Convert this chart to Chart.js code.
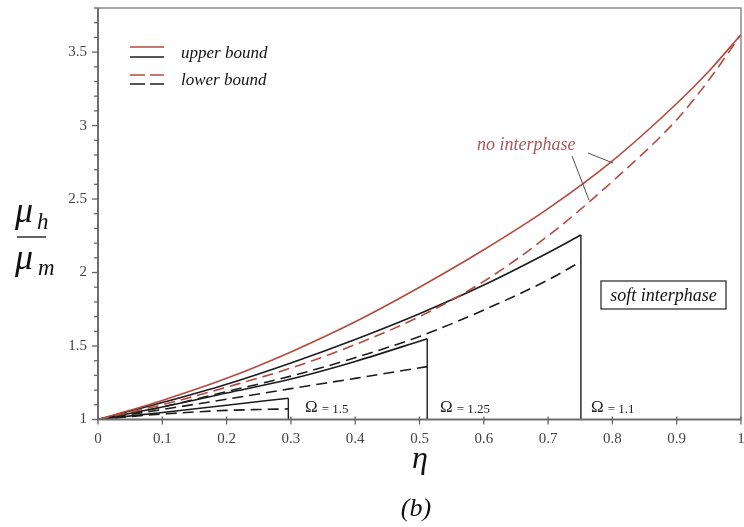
<!DOCTYPE html>
<html>
<head>
<meta charset="utf-8">
<script src="https://cdn.jsdelivr.net/npm/chart.js@4/dist/chart.umd.min.js"></script>
<style>
html,body{margin:0;padding:0;background:#fff;}
#wrap{width:744px;height:527px;position:relative;}
</style>
</head>
<body>
<div id="wrap"><canvas id="c" width="744" height="527"></canvas></div>
<script>
// ---- data ----
const etaNo = [0, 0.1, 0.2, 0.3, 0.4, 0.5, 0.6, 0.7, 0.8, 0.9, 0.95, 1];
const noInterUpper = [1, 1.13, 1.28, 1.46, 1.665, 1.90, 2.155, 2.435, 2.76, 3.15, 3.37, 3.62];
const noInterLower = [1, 1.10, 1.22, 1.35, 1.51, 1.70, 1.94, 2.25, 2.62, 3.04, 3.31, 3.62];

const eta11 = [0, 0.1, 0.2, 0.3, 0.4, 0.5, 0.6, 0.7, 0.751];
const upper11 = [1, 1.115, 1.24, 1.385, 1.545, 1.72, 1.915, 2.135, 2.255];
const lower11 = [1, 1.085, 1.19, 1.295, 1.42, 1.565, 1.745, 1.95, 2.075];

const eta125 = [0, 0.1, 0.2, 0.3, 0.4, 0.512];
const upper125 = [1, 1.085, 1.18, 1.275, 1.395, 1.55];
const lower125 = [1, 1.068, 1.138, 1.21, 1.28, 1.36];

const eta15u = [0, 0.1, 0.2, 0.296];
const upper15 = [1, 1.048, 1.097, 1.145];
const eta15l = [0, 0.05, 0.1, 0.15, 0.2, 0.25, 0.296];
const lower15 = [1, 1.02, 1.037, 1.051, 1.062, 1.068, 1.072];

const omegaValues = ['1.5', '1.25', '1.1'];
const etaMax = [0.296, 0.512, 0.751];
const upperEnd = [1.145, 1.55, 2.255];

const xTicks = [0, 0.1, 0.2, 0.3, 0.4, 0.5, 0.6, 0.7, 0.8, 0.9, 1];
const yMajor = [1, 1.5, 2, 2.5, 3, 3.5];

// ---- helpers ----
const RED = '#b44a3e';
const BLK = '#1c1c1c';
const pts = (xs, ys) => xs.map((x, i) => ({x: x, y: ys[i]}));
const lineDs = (xs, ys, color, dashed) => ({
  data: pts(xs, ys), borderColor: color, borderWidth: 1.6,
  borderDash: dashed ? [11, 6] : [], pointRadius: 0, showLine: true,
  tension: 0.4, cubicInterpolationMode: 'monotone', fill: false
});

const datasets = [
  lineDs(etaNo, noInterUpper, RED, false),
  lineDs(etaNo, noInterLower, RED, true),
  lineDs(eta11, upper11, BLK, false),
  lineDs(eta11, lower11, BLK, true),
  lineDs(eta125, upper125, BLK, false),
  lineDs(eta125, lower125, BLK, true),
  lineDs(eta15u, upper15, BLK, false),
  lineDs(eta15l, lower15, BLK, true)
];
etaMax.forEach((e, i) => {
  const d = lineDs([e, e], [upperEnd[i], 1], BLK, false);
  d.tension = 0; d.borderWidth = 1.4;
  datasets.push(d);
});

const SERIF = '"Liberation Serif", "DejaVu Serif", serif';

const decor = {
  id: 'decor',
  afterDraw(chart) {
    const ctx = chart.ctx;
    const xs = chart.scales.x, ys = chart.scales.y;
    const L = chart.chartArea.left, R = chart.chartArea.right;
    const T = chart.chartArea.top, B = chart.chartArea.bottom;
    ctx.save();
    // frame
    ctx.strokeStyle = '#8a8a8a'; ctx.lineWidth = 1.5;
    ctx.beginPath(); ctx.moveTo(L, T); ctx.lineTo(R, T); ctx.lineTo(R, B); ctx.stroke();
    ctx.strokeStyle = '#6e6e6e'; ctx.lineWidth = 2;
    ctx.beginPath(); ctx.moveTo(L, T); ctx.lineTo(L, B); ctx.lineTo(R, B); ctx.stroke();
    // y ticks
    ctx.lineWidth = 1.3; ctx.strokeStyle = '#666';
    ys.ticks.forEach(t => {
      const v = t.value;
      const major = Math.abs(v * 2 - Math.round(v * 2)) < 1e-6;
      const py = ys.getPixelForValue(v);
      ctx.beginPath(); ctx.moveTo(L - (major ? 6 : 4), py); ctx.lineTo(L, py); ctx.stroke();
    });
    // x ticks
    xTicks.forEach(v => {
      const px = xs.getPixelForValue(v);
      ctx.beginPath(); ctx.moveTo(px, B - 3); ctx.lineTo(px, B + 5); ctx.stroke();
    });

    // y title: mu_h / mu_m
    ctx.fillStyle = '#111';
    ctx.font = 'italic 36px ' + SERIF;
    ctx.textBaseline = 'alphabetic'; ctx.textAlign = 'left';
    ctx.fillText('\u03bc', 15, 222);
    ctx.font = 'italic 23px ' + SERIF;
    ctx.fillText('h', 37, 229);
    ctx.strokeStyle = '#222'; ctx.lineWidth = 1.4;
    ctx.beginPath(); ctx.moveTo(17, 237); ctx.lineTo(46, 237); ctx.stroke();
    ctx.font = 'italic 36px ' + SERIF;
    ctx.fillText('\u03bc', 15, 269);
    ctx.font = 'italic 23px ' + SERIF;
    ctx.fillText('m', 38, 275);

    // x title
    ctx.textAlign = 'center';
    ctx.font = 'italic 32px ' + SERIF;
    ctx.fillText('\u03b7', 420, 468);
    ctx.font = 'italic 26px ' + SERIF;
    ctx.fillText('(b)', 416, 516);

    // legend
    ctx.lineWidth = 1.6;
    const lx0 = 130, lx1 = 164;
    ctx.strokeStyle = RED; ctx.setLineDash([]);
    ctx.beginPath(); ctx.moveTo(lx0, 47); ctx.lineTo(lx1, 47); ctx.stroke();
    ctx.strokeStyle = BLK;
    ctx.beginPath(); ctx.moveTo(lx0, 57); ctx.lineTo(lx1, 57); ctx.stroke();
    ctx.setLineDash([15, 5]);
    ctx.strokeStyle = RED;
    ctx.beginPath(); ctx.moveTo(lx0, 75); ctx.lineTo(lx1, 75); ctx.stroke();
    ctx.strokeStyle = BLK;
    ctx.beginPath(); ctx.moveTo(lx0, 84); ctx.lineTo(lx1, 84); ctx.stroke();
    ctx.setLineDash([]);
    ctx.fillStyle = '#111';
    ctx.textAlign = 'left';
    ctx.font = 'italic 17px ' + SERIF;
    ctx.fillText('upper bound', 181, 58);
    ctx.fillText('lower bound', 181, 85);

    // no interphase label and leaders
    ctx.fillStyle = '#a8585a';
    ctx.font = 'italic 18px ' + SERIF;
    ctx.fillText('no interphase', 477, 150);
    ctx.strokeStyle = '#5a4a48'; ctx.lineWidth = 1;
    ctx.beginPath(); ctx.moveTo(588, 153); ctx.lineTo(613, 163); ctx.stroke();
    ctx.beginPath(); ctx.moveTo(572, 156); ctx.lineTo(589, 200); ctx.stroke();

    // soft interphase box
    ctx.strokeStyle = '#222'; ctx.lineWidth = 1.2;
    ctx.strokeRect(601, 281, 125, 28);
    ctx.fillStyle = '#111';
    ctx.textAlign = 'center';
    ctx.font = 'italic 18px ' + SERIF;
    ctx.fillText('soft interphase', 663.5, 301);

    // Omega labels
    ctx.textAlign = 'left';
    const omX = [305, 440, 591];
    omegaValues.forEach((o, i) => {
      ctx.font = '17px ' + SERIF;
      ctx.fillStyle = '#222';
      ctx.fillText('\u03a9', omX[i], 412);
      const w = ctx.measureText('\u03a9').width;
      ctx.font = '13px ' + SERIF;
      ctx.fillText('= ' + o, omX[i] + w + 4, 413);
    });
    ctx.restore();
  }
};

new Chart(document.getElementById('c'), {
  type: 'scatter',
  data: { datasets: datasets },
  options: {
    responsive: false, animation: false,
    layout: { padding: { left: 0, right: 3, top: 8, bottom: 0 } },
    plugins: { legend: { display: false }, tooltip: { enabled: false } },
    scales: {
      x: {
        type: 'linear', min: 0, max: 1,
        afterFit: s => { s.height = 107.5; s.paddingLeft = 0; s.paddingRight = 0; },
        afterBuildTicks: s => { s.ticks = xTicks.map(v => ({value: v})); },
        grid: { display: false, drawTicks: false },
        border: { display: false },
        ticks: {
          padding: 11, color: '#444', autoSkip: false, maxRotation: 0,
          font: { family: SERIF, size: 15 },
          callback: v => (v === 0 || v === 1) ? String(v) : v.toFixed(1)
        }
      },
      y: {
        type: 'linear', min: 1, max: 3.8,
        afterFit: s => { s.width = 98; s.paddingTop = 0; s.paddingBottom = 0; },
        grid: { display: false, drawTicks: false },
        border: { display: false },
        ticks: {
          stepSize: 0.1, padding: 11, color: '#444', autoSkip: false,
          font: { family: SERIF, size: 15 },
          callback: v => {
            const m = yMajor.find(t => Math.abs(t - v) < 1e-6);
            return m === undefined ? '' : String(m);
          }
        }
      }
    }
  },
  plugins: [decor]
});
</script>
</body>
</html>
